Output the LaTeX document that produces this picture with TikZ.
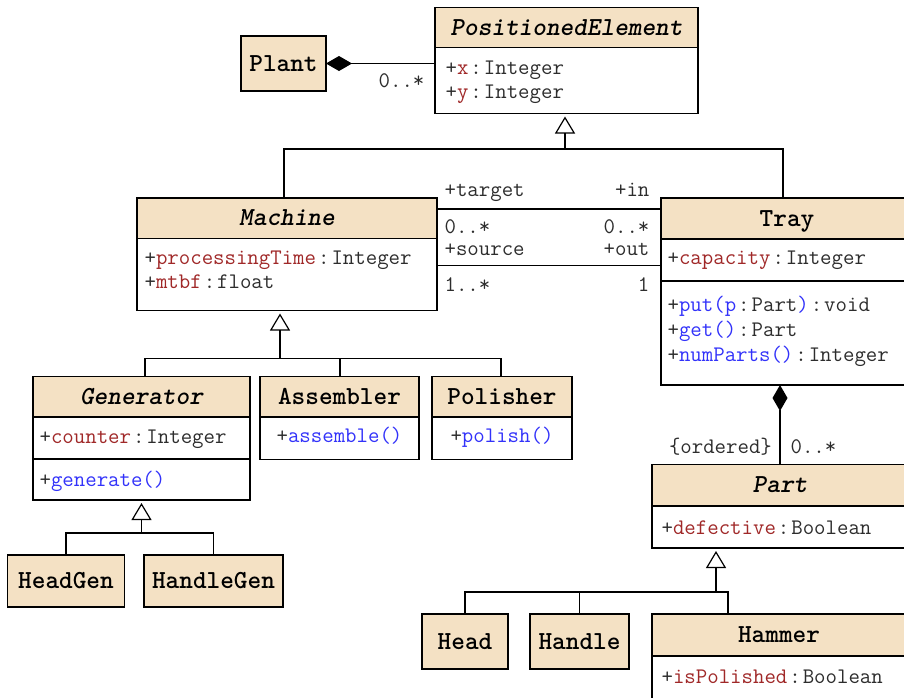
\documentclass[tikz,border=0pt]{standalone}
\usetikzlibrary{arrows.meta,calc}
\definecolor{hdrfill}{RGB}{244,225,196}
\definecolor{attrcol}{RGB}{160,40,40}
\definecolor{methcol}{RGB}{50,50,250}
\definecolor{txtcol}{RGB}{45,45,45}
\newcommand\csep{\kern2pt:\kern2pt}
\newcommand\umlattr[2]{+\textcolor{attrcol}{#1}\csep #2}
\newcommand\umlmeth[1]{+\textcolor{methcol}{#1}}
\begin{document}
\begin{tikzpicture}[x=1pt,y=-1pt,
  line width=1.2pt,
  box/.style={draw, inner sep=0pt, outer sep=0pt, anchor=north west},
  hdr/.style={box, fill=hdrfill, font=\ttfamily\bfseries\fontsize{26}{26}\selectfont, text height=15pt, text depth=0pt},
  comp/.style={box, fill=white},
  mem/.style={anchor=mid west, inner sep=0pt, yshift=-4.5pt, font=\ttfamily\fontsize{22.2}{22.2}\selectfont, text=txtcol},
  memr/.style={mem, anchor=mid east},
  memc/.style={mem, anchor=mid},
  genarrow/.style={-{Triangle[open, length=17pt, width=20pt]}, shorten >=3pt},
  comparrow/.style={{Diamond[length=26pt, width=15pt]}-}
]
\useasboundingbox (0,0) rectangle (904,697);
\clip (0,0) rectangle (904,697);
\fill[white] (0,0) rectangle (904,697);

% PositionedElement
\node[hdr, minimum width=263pt, minimum height=40pt] (peH) at (435,7.5) {\itshape PositionedElement};
\node[comp, minimum width=263pt, minimum height=66pt] (peA) at (435,47.5) {};
\node[mem] (pex) at (445,68) {\umlattr{x}{Integer}};
\node[mem] (pey) at (445,91.5) {\umlattr{y}{Integer}};

% Plant
\node[hdr, minimum width=85pt, minimum height=55pt] (plant) at (241,36) {Plant};

% Machine
\node[hdr, minimum width=300pt, minimum height=40.5pt] (maH) at (137,198) {\itshape Machine};
\node[comp, minimum width=300pt, minimum height=72pt] (maA) at (137,238.5) {};
\node[mem] (mapt) at (144,257.5) {\umlattr{processingTime}{Integer}};
\node[mem] (mamt) at (144,282) {\umlattr{mtbf}{float}};

% Tray
\node[hdr, minimum width=252pt, minimum height=41pt] (trH) at (661,198) {Tray};
\node[comp, minimum width=252pt, minimum height=42pt] (trA) at (661,239) {};
\node[comp, minimum width=252pt, minimum height=104pt] (trM) at (661,281) {};
\node[mem] (trcap) at (667,258) {\umlattr{capacity}{Integer}};
\node[mem] (trput) at (667,304.5) {+\textcolor{methcol}{put(p}\csep Part\textcolor{methcol}{)}\csep void};
\node[mem] (trget) at (667,329.5) {\umlmeth{get()}\csep Part};
\node[mem] (trnum) at (667,354.5) {\umlmeth{numParts()}\csep Integer};

% Generator
\node[hdr, minimum width=217pt, minimum height=40.5pt] (geH) at (33,376.5) {\itshape Generator};
\node[comp, minimum width=217pt, minimum height=42pt] (geA) at (33,417) {};
\node[comp, minimum width=217pt, minimum height=41pt] (geM) at (33,459) {};
\node[mem] (gecnt) at (39,437) {\umlattr{counter}{Integer}};
\node[mem] (gegen) at (39,480) {\umlmeth{generate()}};

% Assembler
\node[hdr, minimum width=159pt, minimum height=40.5pt] (asH) at (260,376.5) {Assembler};
\node[comp, minimum width=159pt, minimum height=42.5pt] (asM) at (260,417) {};
\node[memc] (asmeth) at (339.5,436) {\umlmeth{assemble()}};

% Polisher
\node[hdr, minimum width=140pt, minimum height=40.5pt] (poH) at (432,376.5) {Polisher};
\node[comp, minimum width=140pt, minimum height=42.5pt] (poM) at (432,417) {};
\node[memc] (pometh) at (502,436) {\umlmeth{polish()}};

% HeadGen, HandleGen
\node[hdr, minimum width=117pt, minimum height=52pt] (hg) at (7.5,555) {HeadGen};
\node[hdr, minimum width=139pt, minimum height=52pt] (hdg) at (144,555) {HandleGen};

% Part
\node[hdr, minimum width=256pt, minimum height=41.5pt] (paH) at (652,464.5) {\itshape Part};
\node[comp, minimum width=256pt, minimum height=42pt] (paA) at (652,506) {};
\node[mem] (padef) at (661,527.5) {\umlattr{defective}{Boolean}};

% Head, Handle, Hammer
\node[hdr, minimum width=86pt, minimum height=55pt] (head) at (422,614) {Head};
\node[hdr, minimum width=99pt, minimum height=55pt] (handle) at (530,614) {Handle};
\node[hdr, minimum width=254pt, minimum height=42pt] (hmH) at (652,614) {Hammer};
\node[comp, minimum width=254pt, minimum height=60pt] (hmA) at (652,656) {};
\node[mem] (hmpol) at (661,676.5) {\umlattr{isPolished}{Boolean}};

% Plant composition
\draw[comparrow] (plant.east) -- (plant.east -| peA.west);
\node[memr] (pl0) at (425,81) {0..*};

% PositionedElement generalization
\coordinate (pbusL) at (284,149);
\coordinate (pbusM) at (565,149);
\coordinate (pbusR) at (783,149);
\draw[genarrow] (pbusM) -- (pbusM |- peA.south);
\draw (pbusL |- maH.north) -- (pbusL) -- (pbusR) -- (pbusR |- trH.north);

% Machine - Tray associations
\coordinate (as1) at ($(maH.north east)+(0,11)$);
\coordinate (as2) at ($(maA.north east)+(0,27)$);
\draw (as1) -- (as1 -| trH.west);
\draw (as2) -- (as2 -| trA.west);
\node[mem] (lt) at (444,190) {+target};
\node[memr] (li) at (650,190) {+in};
\node[mem] (l0a) at (444,227) {0..*};
\node[memr] (l0b) at (650,227) {0..*};
\node[mem] (lsrc) at (444,248.5) {+source};
\node[memr] (lout) at (650,248.5) {+out};
\node[mem] (l1a) at (444,285) {1..*};
\node[memr] (l1b) at (650,285) {1};

% Machine generalization
\coordinate (mbusM) at (280,358.5);
\coordinate (mbusL) at (145,358.5);
\coordinate (mbusA) at (340,358.5);
\coordinate (mbusR) at (501,358.5);
\draw[genarrow] (mbusM) -- (mbusM |- maA.south);
\draw (mbusL |- geH.north) -- (mbusL) -- (mbusR) -- (mbusR |- poH.north);
\draw (mbusA) -- (mbusA |- asH.north);

% Generator generalization
\coordinate (gbus) at (141.5,533);
\draw[genarrow] (gbus) -- (geM.south);
\draw (hg.north) |- (gbus) -| (hdg.north);

% Tray - Part composition
\draw[comparrow] (paH.north |- trM.south) -- (paH.north);
\node[memr] (lord) at (772.5,447) {\{ordered\}};
\node[mem] (lpm) at (790,447) {0..*};

% Part generalization
\coordinate (ptM) at (716,592);
\coordinate (ptR) at (728,592);
\draw[genarrow] (ptM) -- (ptM |- paA.south);
\draw (head.north) |- (ptR) -- (ptR |- hmH.north);
\draw (handle.north) -- (handle.north |- ptR);
\end{tikzpicture}
\end{document}
